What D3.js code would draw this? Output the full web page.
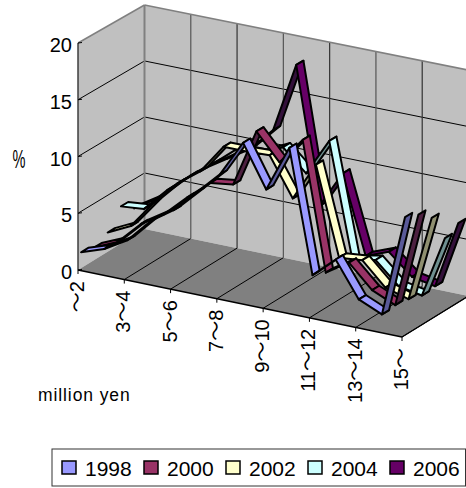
<!DOCTYPE html>
<html><head><meta charset="utf-8">
<script src="https://cdnjs.cloudflare.com/ajax/libs/d3/7.8.5/d3.min.js"></script>
<style>html,body{margin:0;padding:0;background:#fff;overflow:hidden}svg{display:block}text{font-family:"Liberation Sans","Noto Sans CJK JP",sans-serif;fill:#000}</style>
</head><body><svg id="c" width="466" height="488"></svg>
<script>
const categories = ["～2","2～3","3～4","4～5","5～6","6～7","7～8","8～9","9～10","10～11","11～12","12～13","13～14","14～15","15～"];
const years = ["1998","2000","2002","2004","2006"];
const colors = ["#9999ff","#993366","#ffffcc","#ccffff","#660066"];
const shades = ["#5a5a99","#4d2040","#8f8f70","#6f9090","#33103a"];
const v1998 = [1.4,2.1,3.3,5.4,6.8,8.8,10.8,14.0,10.3,14.4,3.6,5.4,2.3,1.4,10.4];
const v2000 = [1.1,2.0,4.0,5.3,7.2,8.9,9.2,14.3,12.0,14.4,3.1,4.4,2.4,1.5,9.9];
const v2002 = [1.7,2.7,5.2,7.3,8.8,11.4,11.4,11.5,8.1,11.5,3.7,3.9,1.9,1.3,8.9];
const v2004 = [3.3,3.5,5.6,7.3,8.8,10.5,10.5,11.5,9.6,12.9,2.8,3.2,1.3,0.9,6.4];
const v2006 = [2.4,3.7,5.6,7.2,8.5,9.8,11.9,18.1,6.0,9.3,2.4,3.2,1.4,1.0,7.0];
const seriesValues = [v1998,v2000,v2002,v2004,v2006];
const valueTicks = [0,5,10,15,20];

const svg = d3.select("#c");
const n = categories.length, m = years.length;
const xI = d3.scaleLinear().domain([0,n-1]).range([0,324]);
const yI = d3.scaleLinear().domain([0,n-1]).range([0,67]);
const xZ = d3.scaleLinear().domain([0,m]).range([0,66.5]);
const yZ = d3.scaleLinear().domain([0,m]).range([0,-41]);
const val = d3.scaleLinear().domain([0,20]).range([0,227]);
function P(i,z,v){
  const shrink = 1 - 0.013*(z/m) + 0.008*(i/(n-1))*(z/m);
  return [78 + xI(i) + xZ(z), 270 + yI(i) + yZ(z) - val(v)*shrink];
}
const poly = pts => "M"+pts.map(p=>p.join(",")).join("L")+"Z";
const seg = (a,b,col,w)=>svg.append("line").attr("x1",a[0]).attr("y1",a[1]).attr("x2",b[0]).attr("y2",b[1]).attr("stroke",col).attr("stroke-width",w);

svg.append("path").attr("d",poly([P(0,0,0),P(0,0,20),P(0,m,20),P(0,m,0)])).attr("fill","#c0c0c0");
svg.append("path").attr("d",poly([P(0,m,0),P(0,m,20),P(n-1,m,20),P(n-1,m,0)])).attr("fill","#c0c0c0");
svg.append("path").attr("d",poly([P(0,0,0),P(0,m,0),P(n-1,m,0),P(n-1,0,0)])).attr("fill","#808080");
valueTicks.slice(1,4).forEach(v=>{
  seg(P(0,0,v),P(0,m,v),"#000",1);
  seg(P(0,m,v),P(n-1,m,v),"#000",1);
});
d3.range(2,n,2).forEach(i=>{
  seg(P(i,0,0),P(i,m,0),"#000",1);
  seg(P(i,m,0),P(i,m,20),i%4==2?"#555":"#333",1.2);
});
seg(P(0,0,20),P(0,m,20),"#808080",1.6);
seg(P(0,m,20),P(n-1,m,20),"#808080",1.6);
seg(P(0,m,0),P(0,m,20),"#808080",2);
seg(P(n-1,0,0),P(n-1,m,0),"#000",1.2);
seg(P(0,0,0),P(0,0,20),"#333",1.4);
seg(P(0,0,0),P(n-1,0,0),"#000",1.4);
valueTicks.forEach(v=>{
  const p=P(0,0,v); seg([p[0],p[1]],[p[0]+4,p[1]-0.5],"#000",1);
  svg.append("text").attr("x",p[0]-6).attr("y",p[1]+9).attr("text-anchor","end").attr("font-size",20).text(v);
});
d3.range(0,n,2).forEach(i=>{
  const p=P(i,0,0);
  seg(p,[p[0],p[1]+4],"#000",1);
  svg.append("text").attr("transform",`translate(${p[0]+6},${p[1]+11}) rotate(-90)`).attr("text-anchor","end").attr("font-size",20).text(categories[i]);
});
svg.append("text").attr("transform","translate(12.5,168) scale(0.56,1)").attr("font-size",26).text("%");
svg.append("text").attr("x",38).attr("y",401).attr("font-size",17.5).attr("letter-spacing",0.9).text("million yen");

const halfW = 0.27;
d3.range(m-1,-1,-1).forEach(s=>{
  const vals = seriesValues[s], z0 = s+0.5-halfW, z1 = s+0.5+halfW;
  const g = svg.append("g");
  d3.range(n-1).forEach(i=>{
    const a=P(i,z0,vals[i]), b=P(i+1,z0,vals[i+1]), c=P(i+1,z1,vals[i+1]), d=P(i,z1,vals[i]);
    const cross=(b[0]-a[0])*(d[1]-a[1])-(b[1]-a[1])*(d[0]-a[0]);
    g.append("path").attr("d",poly([a,b,c,d])).attr("fill",cross<0?colors[s]:shades[s])
      .attr("stroke","#000").attr("stroke-width",2).attr("stroke-linejoin","round");
  });
});

svg.append("rect").attr("x",52).attr("y",449).attr("width",413.5).attr("height",37).attr("fill","#fff").attr("stroke","#333").attr("stroke-width",1);
const legendX = d3.scaleLinear().domain([0,m-1]).range([62,390]);
years.forEach((y,k)=>{
  svg.append("rect").attr("x",legendX(k)).attr("y",461).attr("width",14).attr("height",13).attr("fill",colors[k]).attr("stroke","#000").attr("stroke-width",1.5);
  svg.append("text").attr("x",legendX(k)+23).attr("y",476).attr("font-size",21).text(y);
});
</script></body></html>
